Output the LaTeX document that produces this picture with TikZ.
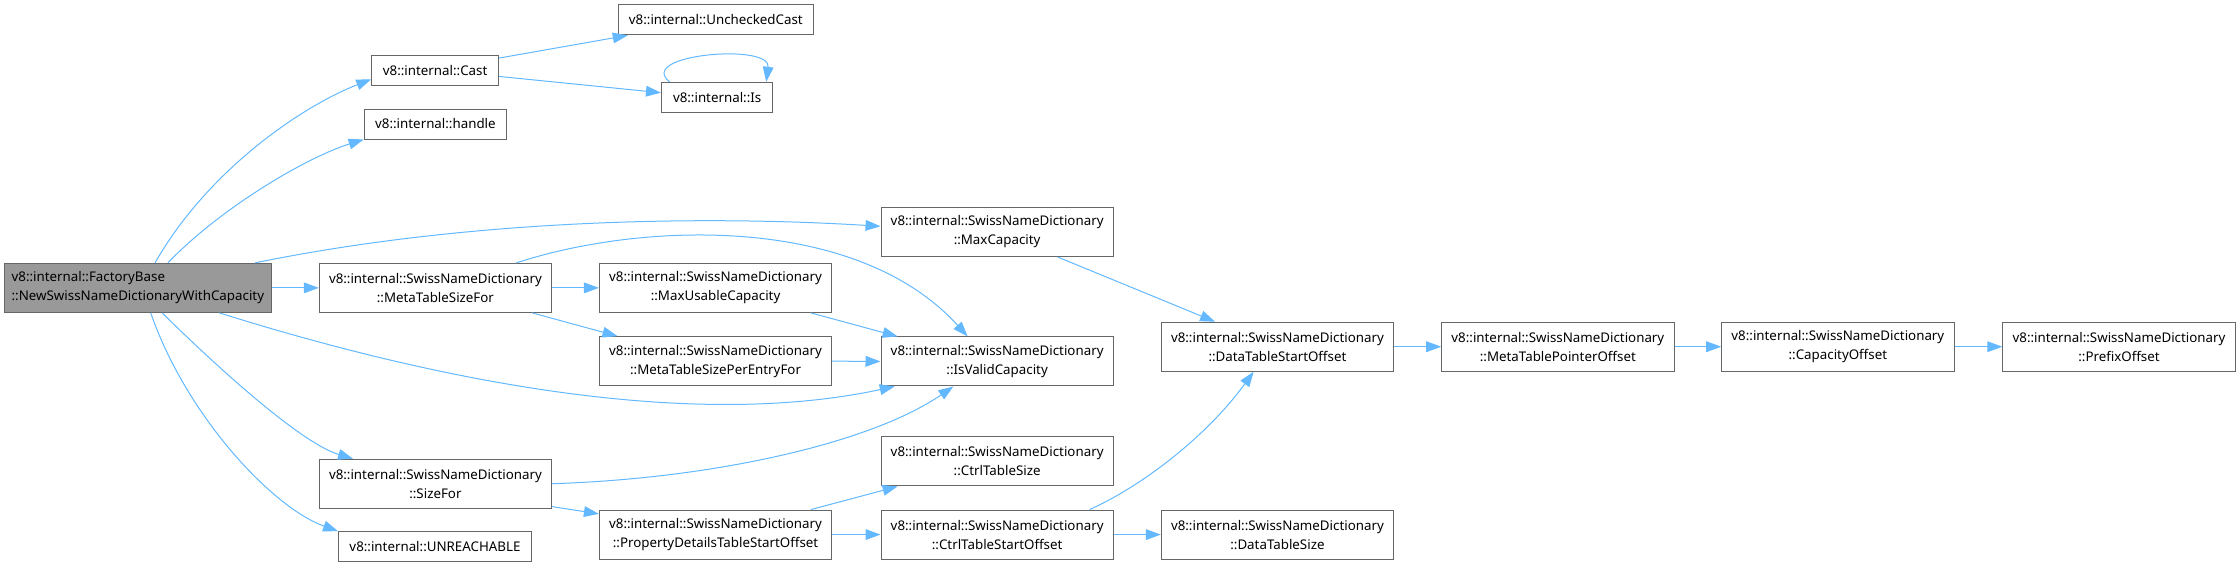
\documentclass[tikz,border=0pt]{standalone}
\usepackage{fontspec}
\setmainfont{Noto Sans}
\usetikzlibrary{arrows.meta, positioning, calc}
\definecolor{edgeblue}  {RGB}{ 99, 184, 255}
\definecolor{boxgray}   {RGB}{102, 102, 102}
\definecolor{mainfill}  {RGB}{153, 153, 153}

\begin{document}
\begin{tikzpicture}[x=1pt,y=-1pt,
	fn/.style={draw=boxgray, line width=0.7pt, fill=white, inner sep=0pt,
		font=\fontsize{9.33}{13.3}\selectfont, minimum height=21pt},
	fnwide/.style={fn, align=center, minimum width=162.6pt, minimum height=34.3pt},
	call/.style={draw=edgeblue, line width=0.7pt, -{Triangle[length=10.5pt,width=7.5pt]}}
]
	\useasboundingbox (0,0) rectangle (1568,397);
	% nodes
	\node[fn, fill=mainfill, align=left, minimum width=187pt, minimum height=34.3pt] (main) at (96.5,201.5) {v8::internal::FactoryBase\\::NewSwissNameDictionaryWithCapacity};
	\node[fn, minimum width=88.8pt] (cast) at (304.6,49.5) {v8::internal::Cast};
	\node[fn, minimum width=136.6pt] (unchecked) at (501.1,13.9) {v8::internal::UncheckedCast};
	\node[fn, minimum width=78pt] (is) at (502,68.1) {v8::internal::Is};
	\node[fn, minimum width=99.8pt] (handle) at (304.8,86.8) {v8::internal::handle};
	\node[fn, minimum width=135pt] (unreach) at (304.5,382.7) {v8::internal::UNREACHABLE};
	\node[fnwide] (mtsf) at (304.8,201.5) {v8::internal::SwissNameDictionary\\::MetaTableSizeFor};
	\node[fnwide] (sizefor) at (304.8,338.6) {v8::internal::SwissNameDictionary\\::SizeFor};
	\node[fnwide] (mucap) at (500.9,201.5) {v8::internal::SwissNameDictionary\\::MaxUsableCapacity};
	\node[fnwide] (mtspe) at (500.9,252.8) {v8::internal::SwissNameDictionary\\::MetaTableSizePerEntryFor};
	\node[fnwide] (pdtso) at (500.9,374.2) {v8::internal::SwissNameDictionary\\::PropertyDetailsTableStartOffset};
	\node[fnwide] (maxcap) at (698,162.4) {v8::internal::SwissNameDictionary\\::MaxCapacity};
	\node[fnwide] (isvalid) at (698,253) {v8::internal::SwissNameDictionary\\::IsValidCapacity};
	\node[fnwide] (ctsize) at (698,323) {v8::internal::SwissNameDictionary\\::CtrlTableSize};
	\node[fnwide] (ctso) at (698,374.2) {v8::internal::SwissNameDictionary\\::CtrlTableStartOffset};
	\node[fnwide] (dtso) at (894.2,242.7) {v8::internal::SwissNameDictionary\\::DataTableStartOffset};
	\node[fnwide] (dtsize) at (894.2,374.2) {v8::internal::SwissNameDictionary\\::DataTableSize};
	\node[fnwide] (mtpo) at (1090.5,242.7) {v8::internal::SwissNameDictionary\\::MetaTablePointerOffset};
	\node[fnwide] (capoff) at (1286.5,242.7) {v8::internal::SwissNameDictionary\\::CapacityOffset};
	\node[fnwide] (prefix) at (1483.3,242.7) {v8::internal::SwissNameDictionary\\::PrefixOffset};
	% calls out of the main function
	\draw[call] ($(main.north)+(12,0)$) .. controls (145,120) and (210,75) .. ($(cast.west)+(0,6)$);
	\draw[call] ($(main.north)+(21,0)$) .. controls (155,145) and (215,110) .. (handle.south west);
	\draw[call] ($(main.north)+(82,0)$) .. controls (320,155) and (480,150) .. ($(maxcap.west)+(0,-4)$);
	\draw[call] (main.east) -- (mtsf.west);
	\draw[call] ($(main.south)+(57,0)$) .. controls (300,265) and (480,302) .. ($(isvalid.south west)+(10,0)$);
	\draw[call] ($(main.south)+(17,0)$) .. controls (150,255) and (210,310) .. ($(sizefor.north west)+(24,0)$);
	\draw[call] ($(main.south)+(9,0)$) .. controls (130,290) and (190,355) .. (unreach.north west);
	% the rest
	\draw[call] ($(cast.north east)+(0,2)$) -- ($(unchecked.south west)+(7,0)$);
	\draw[call] ($(cast.east)+(0,4)$) -- ($(is.west)+(0,-3.2)$);
	\draw[call] ($(is.north west)+(6,0)$) .. controls (445,38) and (540,30) .. ($(is.north east)+(-5,0)$);
	\draw[call] ($(mtsf.north east)+(-25,0)$) .. controls (450,155) and (600,150) .. ($(isvalid.north west)+(61,0)$);
	\draw[call] (mtsf.east) -- (mucap.west);
	\draw[call] ($(mtsf.south east)+(-14,0)$) -- ($(mtspe.north west)+(13,0)$);
	\draw[call] ($(mucap.south east)+(-15,0)$) -- ($(isvalid.north west)+(12,0)$);
	\draw[call] (mtspe.east) -- (isvalid.west);
	\draw[call] ($(maxcap.south west)+(124,0)$) -- ($(dtso.north west)+(38,0)$);
	\draw[call] (sizefor.east) .. controls (500,335) and (610,310) .. ($(isvalid.south west)+(51,0)$);
	\draw[call] ($(sizefor.south east)+(0,-1.5)$) -- ($(pdtso.north west)+(0,3)$);
	\draw[call] ($(pdtso.north east)+(-15,0)$) -- ($(ctsize.south west)+(12,0)$);
	\draw[call] (pdtso.east) -- (ctso.west);
	\draw[call] ($(ctso.north east)+(-17,0)$) .. controls (800,340) and (845,305) .. ($(dtso.south west)+(65,0)$);
	\draw[call] (ctso.east) -- (dtsize.west);
	\draw[call] (dtso.east) -- (mtpo.west);
	\draw[call] (mtpo.east) -- (capoff.west);
	\draw[call] (capoff.east) -- (prefix.west);
\end{tikzpicture}
\end{document}
